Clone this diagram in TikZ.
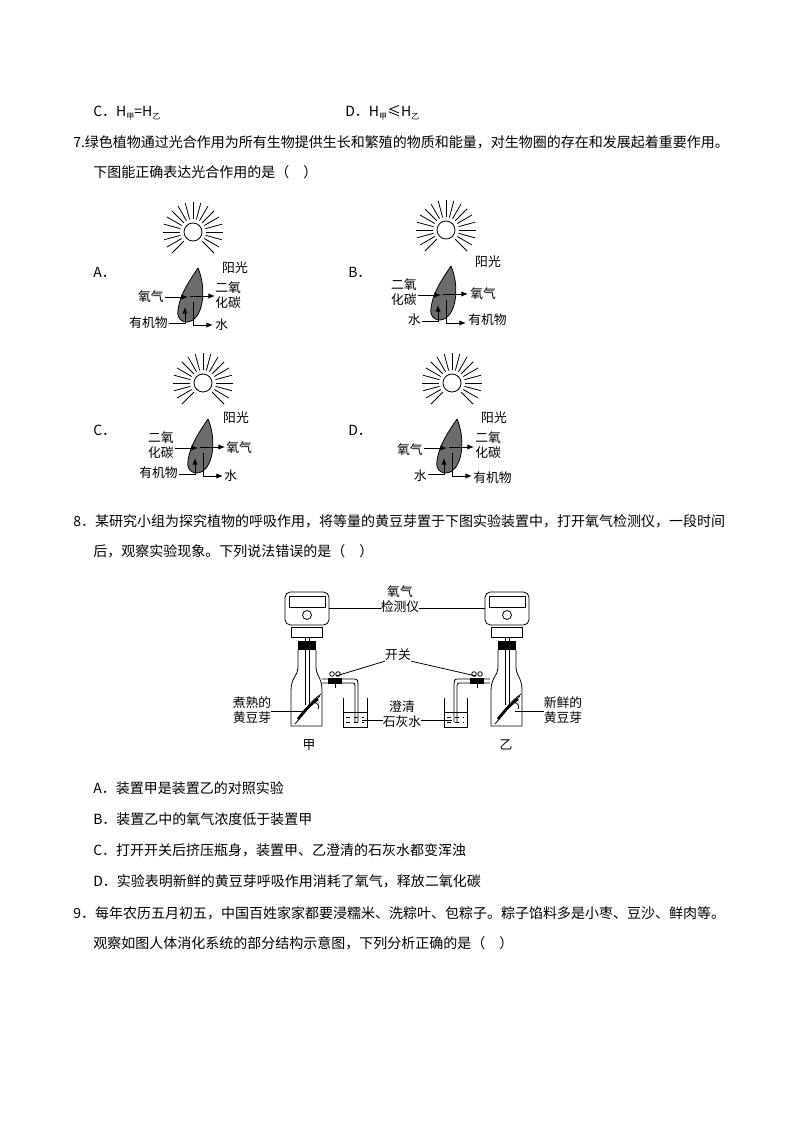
\documentclass[tikz,border=0pt]{standalone}
\usepackage{fontspec}
\setmainfont{Noto Sans CJK SC}
\usetikzlibrary{arrows.meta}
\newcommand{\subx}[1]{\raisebox{-2.5pt}{\fontsize{6}{6}\selectfont #1}}
\tikzset{
 body/.style={anchor=west,font=\fontsize{10.5}{12}\selectfont,inner sep=0pt},
 lab/.style={font=\fontsize{9.6}{11}\selectfont,inner sep=0pt,align=center},
 arr/.style={-{Latex[length=5pt,width=4pt]},line width=0.7pt},
 thin/.style={line width=0.6pt}
}
\newcommand{\leafdiag}[3]{% sun x, sun y, name
 \begin{scope}[shift={(#1,#2)}]
 \draw[thin] (0,0) circle (9);
 \foreach \a in {135,150,165,180,195,210,225,240,255,270,285,300,315,330,345,360,375,390,405} {\draw[thin] (\a:13) -- (\a:30);}
 \draw[fill=gray!85!black,thin] (5,36) .. controls (13,55) and (11,80) .. (0,88) .. controls (-8,93) and (-17,88) .. (-15,78) .. controls (-13,62) and (-3,48) .. (5,36);
 \coordinate (#3l) at (-28,65); \coordinate (#3lc) at (-5,65);
 \coordinate (#3r) at (-3,64); \coordinate (#3rc) at (22,64);
 \draw[arr] (#3l) -- (#3lc);
 \draw[arr] (#3r) -- (#3rc);
 \draw[arr] (-24,91) -| (-8,75);
 \draw[arr] (0,70) |- (20,93);
 \end{scope}}
\begin{document}
\begin{tikzpicture}[x=0.75pt,y=-0.75pt]
\useasboundingbox[fill=white] (0,0) rectangle (794,1123);
\node[body] (c6) at (93,113) {C．H\subx{甲}=H\subx{乙}};
\node[body] (d6) at (345,113) {D．H\subx{甲}≤H\subx{乙}};
\node[body] (q7) at (73,142) {7.绿色植物通过光合作用为所有生物提供生长和繁殖的物质和能量，对生物圈的存在和发展起着重要作用。};
\node[body] (q7b) at (93,172) {下图能正确表达光合作用的是（\quad ）};
% A
\node[body] (oa) at (93,272) {A．};
\leafdiag{193}{232}{a}
\node[lab] at (235,268) {阳光};
\node[lab,anchor=east] at (164,297) {氧气};
\node[lab,anchor=west] at (215,295) {二氧\\化碳};
\node[lab,anchor=east] at (168,323) {有机物};
\node[lab,anchor=west] at (215,325) {水};
% B
\node[body] (ob) at (348,272) {B．};
\leafdiag{446}{230}{b}
\node[lab] at (488,262) {阳光};
\node[lab,anchor=east] at (417,292) {二氧\\化碳};
\node[lab,anchor=west] at (470,294) {氧气};
\node[lab,anchor=east] at (421,320) {水};
\node[lab,anchor=west] at (468,320) {有机物};
% C
\node[body] (oc) at (93,430) {C．};
\leafdiag{203}{383}{c}
\node[lab] at (236,418) {阳光};
\node[lab,anchor=east] at (174,445) {二氧\\化碳};
\node[lab,anchor=west] at (226,448) {氧气};
\node[lab,anchor=east] at (178,473) {有机物};
\node[lab,anchor=west] at (224,476) {水};
% D
\node[body] (od) at (348,430) {D．};
\leafdiag{452}{383}{d}
\node[lab] at (494,418) {阳光};
\node[lab,anchor=east] at (423,450) {氧气};
\node[lab,anchor=west] at (475,445) {二氧\\化碳};
\node[lab,anchor=east] at (427,476) {水};
\node[lab,anchor=west] at (473,478) {有机物};
% Q8
\node[body] (q8) at (73,521) {8．某研究小组为探究植物的呼吸作用，将等量的黄豆芽置于下图实验装置中，打开氧气检测仪，一段时间};
\node[body] (q8b) at (93,551) {后，观察实验现象。下列说法错误的是（\quad ）};
\foreach \ox in {0,200} {
 \begin{scope}[shift={(\ox,0)}]
 \draw[thin,rounded corners=4] (285,592) rectangle (329,625);
 \draw[thin] (289,596) rectangle (325,607);
 \draw[thin] (307,615) circle (4.5);
 \draw[thin] (291,627) rectangle (322,637);
 \draw[thin] (305,637) -- (305,641) (309,637) -- (309,641);
 \fill (298,641) rectangle (316,650);
 \draw[thin] (298,650) -- (298,668) .. controls (298,675) and (291,678) .. (291,690) -- (291,726) -- (322,726) -- (322,690) .. controls (322,678) and (316,675) .. (316,668) -- (316,650);
 \draw[thin] (305,650) -- (305,705) (309,650) -- (309,705);
 \draw[thin] (295,724) .. controls (305,712) and (312,703) .. (320,696);
 \draw[line width=2pt] (298,719) .. controls (306,709) and (312,703) .. (318,699);
 \draw[thin] (300,716) .. controls (308,705) and (314,699) .. (321,694);
 \draw[thin] (313,702) .. controls (318,703) and (320,706) .. (318,709);
 \end{scope}}
% left tube
\draw[thin] (322,679) -- (354,679) .. controls (358,679) and (358,681) .. (358,684) -- (358,722);
\draw[thin] (322,683) -- (353,683) .. controls (354,683) and (355,684) .. (355,686) -- (355,722);
\fill (328,678) rectangle (342,684);
\draw[thin] (335,678) -- (335,688);
\draw[thin] (332,674) circle (2.3) (338,674) circle (2.3);
\draw[thin] (343,698) -- (343,727) -- (367,727) -- (367,698);
\draw[thin] (343,712) -- (367,712);
\draw[thin,dashed] (346,717) -- (364,717) (346,722) -- (364,722);
% right tube
\draw[thin] (490,679) -- (458,679) .. controls (454,679) and (454,681) .. (454,684) -- (454,722);
\draw[thin] (490,683) -- (459,683) .. controls (458,683) and (457,684) .. (457,686) -- (457,722);
\fill (470,678) rectangle (484,684);
\draw[thin] (477,678) -- (477,688);
\draw[thin] (474,674) circle (2.3) (480,674) circle (2.3);
\draw[thin] (444,698) -- (444,727) -- (467,727) -- (467,698);
\draw[thin] (444,712) -- (467,712);
\draw[thin,dashed] (447,717) -- (464,717) (447,722) -- (464,722);
% labels
\node[lab] (o2) at (400,599) {氧气\\检测仪};
\draw[thin] (329,608) -- (o2.west |- 0,608);
\draw[thin] (o2.east |- 0,608) -- (485,608);
\node[lab] (kg) at (398,655) {开关};
\draw[thin] (kg.south west) -- (336,676);
\draw[thin] (kg.south east) -- (476,676);
\node[lab] (cq) at (402,714) {澄清\\石灰水};
\draw[thin] (362,720) -- (cq.west |- 0,720);
\draw[thin] (cq.east |- 0,720) -- (452,720);
\node[lab] (zs) at (252,710) {煮熟的\\黄豆芽};
\draw[thin] (zs.east |- 0,711) -- (305,711);
\node[lab] (xx) at (563,710) {新鲜的\\黄豆芽};
\draw[thin] (xx.west |- 0,711) -- (515,711);
\node[lab] (jia) at (309,745) {甲};
\node[lab] (yi) at (506,745) {乙};
\node[body] (a8) at (93,788) {A．装置甲是装置乙的对照实验};
\node[body] (b8) at (93,819) {B．装置乙中的氧气浓度低于装置甲};
\node[body] (c8) at (93,850) {C．打开开关后挤压瓶身，装置甲、乙澄清的石灰水都变浑浊};
\node[body] (d8) at (93,881) {D．实验表明新鲜的黄豆芽呼吸作用消耗了氧气，释放二氧化碳};
\node[body] (q9) at (73,913) {9．每年农历五月初五，中国百姓家家都要浸糯米、洗粽叶、包粽子。粽子馅料多是小枣、豆沙、鲜肉等。};
\node[body] (q9b) at (93,943) {观察如图人体消化系统的部分结构示意图，下列分析正确的是（\quad ）};
\end{tikzpicture}
\end{document}
